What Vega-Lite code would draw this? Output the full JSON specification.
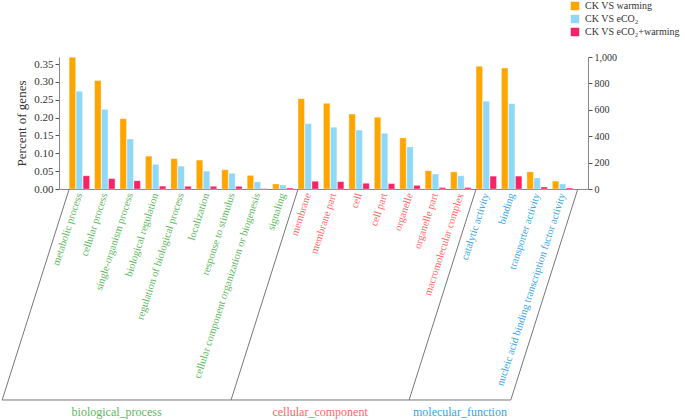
{
  "$schema": "https://vega.github.io/schema/vega-lite/v6.json",
  "width": 529,
  "height": 132,
  "autosize": {"type": "none"},
  "padding": {"left": 59, "top": 57, "right": 97, "bottom": 231},
  "config": {"view": {"stroke": null}, "font": "Liberation Serif"},
  "datasets": {
    "bars": [
      {"term": "metabolic process", "comparison": "CK VS warming", "percent": 0.369},
      {"term": "metabolic process", "comparison": "CK VS eCO₂", "percent": 0.274},
      {"term": "metabolic process", "comparison": "CK VS eCO₂+warming", "percent": 0.037},
      {"term": "cellular process", "comparison": "CK VS warming", "percent": 0.304},
      {"term": "cellular process", "comparison": "CK VS eCO₂", "percent": 0.223},
      {"term": "cellular process", "comparison": "CK VS eCO₂+warming", "percent": 0.029},
      {"term": "single-organism process", "comparison": "CK VS warming", "percent": 0.197},
      {"term": "single-organism process", "comparison": "CK VS eCO₂", "percent": 0.140},
      {"term": "single-organism process", "comparison": "CK VS eCO₂+warming", "percent": 0.023},
      {"term": "biological regulation", "comparison": "CK VS warming", "percent": 0.092},
      {"term": "biological regulation", "comparison": "CK VS eCO₂", "percent": 0.069},
      {"term": "biological regulation", "comparison": "CK VS eCO₂+warming", "percent": 0.008},
      {"term": "regulation of biological process", "comparison": "CK VS warming", "percent": 0.085},
      {"term": "regulation of biological process", "comparison": "CK VS eCO₂", "percent": 0.064},
      {"term": "regulation of biological process", "comparison": "CK VS eCO₂+warming", "percent": 0.0075},
      {"term": "localization", "comparison": "CK VS warming", "percent": 0.081},
      {"term": "localization", "comparison": "CK VS eCO₂", "percent": 0.050},
      {"term": "localization", "comparison": "CK VS eCO₂+warming", "percent": 0.0075},
      {"term": "response to stimulus", "comparison": "CK VS warming", "percent": 0.054},
      {"term": "response to stimulus", "comparison": "CK VS eCO₂", "percent": 0.044},
      {"term": "response to stimulus", "comparison": "CK VS eCO₂+warming", "percent": 0.0075},
      {"term": "cellular component organization or biogenesis", "comparison": "CK VS warming", "percent": 0.038},
      {"term": "cellular component organization or biogenesis", "comparison": "CK VS eCO₂", "percent": 0.020},
      {"term": "cellular component organization or biogenesis", "comparison": "CK VS eCO₂+warming", "percent": 0.001},
      {"term": "signaling", "comparison": "CK VS warming", "percent": 0.014},
      {"term": "signaling", "comparison": "CK VS eCO₂", "percent": 0.011},
      {"term": "signaling", "comparison": "CK VS eCO₂+warming", "percent": 0.003},
      {"term": "membrane", "comparison": "CK VS warming", "percent": 0.253},
      {"term": "membrane", "comparison": "CK VS eCO₂", "percent": 0.183},
      {"term": "membrane", "comparison": "CK VS eCO₂+warming", "percent": 0.0215},
      {"term": "membrane part", "comparison": "CK VS warming", "percent": 0.240},
      {"term": "membrane part", "comparison": "CK VS eCO₂", "percent": 0.173},
      {"term": "membrane part", "comparison": "CK VS eCO₂+warming", "percent": 0.0205},
      {"term": "cell", "comparison": "CK VS warming", "percent": 0.210},
      {"term": "cell", "comparison": "CK VS eCO₂", "percent": 0.165},
      {"term": "cell", "comparison": "CK VS eCO₂+warming", "percent": 0.016},
      {"term": "cell part", "comparison": "CK VS warming", "percent": 0.201},
      {"term": "cell part", "comparison": "CK VS eCO₂", "percent": 0.156},
      {"term": "cell part", "comparison": "CK VS eCO₂+warming", "percent": 0.015},
      {"term": "organelle", "comparison": "CK VS warming", "percent": 0.143},
      {"term": "organelle", "comparison": "CK VS eCO₂", "percent": 0.118},
      {"term": "organelle", "comparison": "CK VS eCO₂+warming", "percent": 0.010},
      {"term": "organelle part", "comparison": "CK VS warming", "percent": 0.051},
      {"term": "organelle part", "comparison": "CK VS eCO₂", "percent": 0.042},
      {"term": "organelle part", "comparison": "CK VS eCO₂+warming", "percent": 0.004},
      {"term": "macromolecular complex", "comparison": "CK VS warming", "percent": 0.048},
      {"term": "macromolecular complex", "comparison": "CK VS eCO₂", "percent": 0.037},
      {"term": "macromolecular complex", "comparison": "CK VS eCO₂+warming", "percent": 0.004},
      {"term": "catalytic activity", "comparison": "CK VS warming", "percent": 0.344},
      {"term": "catalytic activity", "comparison": "CK VS eCO₂", "percent": 0.246},
      {"term": "catalytic activity", "comparison": "CK VS eCO₂+warming", "percent": 0.036},
      {"term": "binding", "comparison": "CK VS warming", "percent": 0.339},
      {"term": "binding", "comparison": "CK VS eCO₂", "percent": 0.239},
      {"term": "binding", "comparison": "CK VS eCO₂+warming", "percent": 0.036},
      {"term": "transporter activity", "comparison": "CK VS warming", "percent": 0.048},
      {"term": "transporter activity", "comparison": "CK VS eCO₂", "percent": 0.031},
      {"term": "transporter activity", "comparison": "CK VS eCO₂+warming", "percent": 0.0056},
      {"term": "nucleic acid binding transcription factor activity", "comparison": "CK VS warming", "percent": 0.022},
      {"term": "nucleic acid binding transcription factor activity", "comparison": "CK VS eCO₂", "percent": 0.014},
      {"term": "nucleic acid binding transcription factor activity", "comparison": "CK VS eCO₂+warming", "percent": 0.003}
    ],
    "rightaxis": [{"genes": 0}, {"genes": 1000}],
    "frames": [
      {"x_top": 0, "x_bottom": -2.635, "d_top": 0, "d_bottom": -1},
      {"x_top": 9, "x_bottom": 6.365, "d_top": 0, "d_bottom": -1},
      {"x_top": 16, "x_bottom": 13.365, "d_top": 0, "d_bottom": -1},
      {"x_top": 20, "x_bottom": 17.365, "d_top": 0, "d_bottom": -1},
      {"x_top": -2.635, "x_bottom": 17.365, "d_top": -1, "d_bottom": -1}
    ],
    "groups": [
      {"ontology": "biological_process", "center": 1.865, "depth": -1},
      {"ontology": "cellular_component", "center": 9.865, "depth": -1},
      {"ontology": "molecular_function", "center": 15.365, "depth": -1}
    ]
  },
  "layer": [
    {
      "data": {"name": "bars"},
      "mark": {"type": "bar", "stroke": "white", "strokeWidth": 0.5, "strokeOpacity": 0.6},
      "encoding": {
        "x": {
          "field": "term", "type": "nominal", "sort": null,
          "scale": {"paddingInner": 0.2, "paddingOuter": 0.5, "align": 0.4},
          "axis": {
            "title": null, "labelAngle": -72, "labelAlign": "right", "labelBaseline": "middle",
            "ticks": false, "domainColor": "#888888", "labelPadding": 4, "labelFontSize": 10.5,
            "labelLimit": 400, "labelOverlap": false,
            "labelColor": {
              "condition": [
                {"test": "indexof(['membrane','membrane part','cell','cell part','organelle','organelle part','macromolecular complex'], datum.value) >= 0", "value": "#FF6666"},
                {"test": "indexof(['catalytic activity','binding','transporter activity','nucleic acid binding transcription factor activity'], datum.value) >= 0", "value": "#33A6E8"}
              ],
              "value": "#5CB85C"
            }
          }
        },
        "xOffset": {"field": "comparison", "type": "nominal", "sort": ["CK VS warming", "CK VS eCO₂", "CK VS eCO₂+warming"], "scale": {"paddingInner": 0.08}},
        "y": {
          "field": "percent", "type": "quantitative",
          "scale": {"domain": [0, 0.37], "nice": false},
          "axis": {
            "title": "Percent of genes", "values": [0, 0.05, 0.1, 0.15, 0.2, 0.25, 0.3, 0.35],
            "format": ".2f", "grid": false, "domainColor": "#888888", "tickColor": "#555555",
            "labelFontSize": 11, "labelColor": "#333333", "titleFontSize": 13, "titleFontWeight": "normal",
            "titleColor": "#333333", "tickSize": 4, "labelPadding": 2, "titlePadding": 5
          }
        },
        "color": {
          "field": "comparison", "type": "nominal",
          "scale": {"domain": ["CK VS warming", "CK VS eCO₂", "CK VS eCO₂+warming"], "range": ["#FFA500", "#8FD8F8", "#F72367"]},
          "legend": {
            "title": null, "orient": "none", "legendX": 511, "legendY": -56,
            "symbolType": "square", "symbolSize": 72, "symbolStrokeWidth": 0,
            "labelFontSize": 10, "labelColor": "#333333", "rowPadding": 3, "labelLimit": 200, "labelOffset": 5
          }
        }
      }
    },
    {
      "data": {"name": "rightaxis"},
      "mark": {"type": "point", "opacity": 0},
      "encoding": {
        "y": {
          "field": "genes", "type": "quantitative",
          "scale": {"domain": [0, 1000], "nice": false},
          "axis": {
            "orient": "right", "title": null, "values": [0, 200, 400, 600, 800, 1000], "format": ",d",
            "grid": false, "domainColor": "#888888", "tickColor": "#555555", "labelFontSize": 10,
            "labelColor": "#333333", "tickSize": 4, "labelPadding": 2
          }
        }
      }
    },
    {
      "data": {"name": "frames"},
      "mark": {"type": "rule", "color": "#777777", "strokeWidth": 1},
      "encoding": {
        "x": {"field": "x_top", "type": "quantitative", "scale": {"domain": [-0.4, 20.4], "nice": false, "zero": false}, "axis": null},
        "x2": {"field": "x_bottom"},
        "y": {"field": "d_top", "type": "quantitative", "scale": {"domain": [0, 0.6256], "nice": false, "zero": false}, "axis": null},
        "y2": {"field": "d_bottom"}
      }
    },
    {
      "data": {"name": "groups"},
      "mark": {"type": "text", "dy": 12, "fontSize": 12, "baseline": "middle", "align": "center"},
      "encoding": {
        "x": {"field": "center", "type": "quantitative", "scale": {"domain": [-0.4, 20.4], "nice": false, "zero": false}, "axis": null},
        "y": {"field": "depth", "type": "quantitative", "scale": {"domain": [0, 0.6256], "nice": false, "zero": false}, "axis": null},
        "text": {"field": "ontology"},
        "color": {
          "field": "ontology", "type": "nominal",
          "scale": {"domain": ["biological_process", "cellular_component", "molecular_function"], "range": ["#5CB85C", "#FF6666", "#33A6E8"]},
          "legend": null
        }
      }
    }
  ],
  "resolve": {"scale": {"x": "independent", "y": "independent", "color": "independent"}}
}
